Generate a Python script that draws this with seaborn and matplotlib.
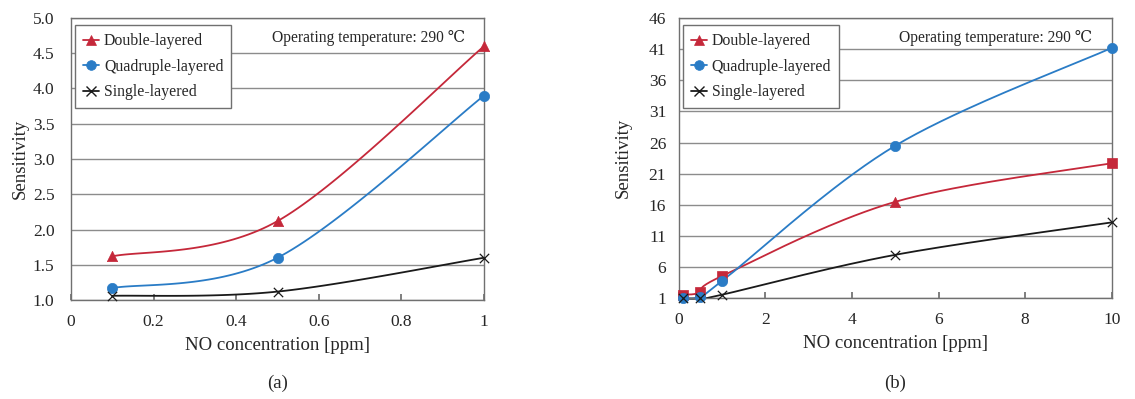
import numpy as np
import pandas as pd
import matplotlib
matplotlib.use("Agg")
import matplotlib.pyplot as plt
import seaborn as sns

# ---- data ----
series_names = ["Double-layered", "Quadruple-layered", "Single-layered"]

# panel (a)
x_a = [0.1, 0.5, 1.0]
double_a = [1.62, 2.12, 4.60]
quad_a = [1.17, 1.60, 3.90]
single_a = [1.06, 1.12, 1.60]

# panel (b)
x_b = [0.1, 0.5, 1.0, 5.0, 10.0]
double_b = [1.6, 2.0, 4.6, 16.5, 22.7]
quad_b = [1.0, 1.3, 3.8, 25.5, 41.2]
single_b = [1.0, 1.0, 1.6, 8.0, 13.2]

xticks_a = [0, 0.2, 0.4, 0.6, 0.8, 1.0]
xticklabels_a = ["0", "0.2", "0.4", "0.6", "0.8", "1"]
yticks_a = [1.0, 1.5, 2.0, 2.5, 3.0, 3.5, 4.0, 4.5, 5.0]
xticks_b = [0, 2, 4, 6, 8, 10]
yticks_b = [1, 6, 11, 16, 21, 26, 31, 36, 41, 46]

annotation = "Operating temperature: 290 \u2103"
xlabel = "NO concentration [ppm]"
ylabel = "Sensitivity"
captions = ["(a)", "(b)"]

# ---- style ----
sns.set_theme(style="white")
plt.rcParams["font.family"] = ["Liberation Serif", "DejaVu Serif"]

RED = "#C5283A"
BLUE = "#2A7CC6"
BLACK = "#1a1a1a"
colors = [RED, BLUE, BLACK]
markers_a = ["^", "o", "x"]
red_markers_b = ["s", "s", "s", "^", "s"]


def smooth(x, y, n=40):
    """Excel-like smoothed curve (Catmull-Rom Bezier) through points."""
    x = np.asarray(x, float)
    y = np.asarray(y, float)
    P = np.column_stack([x, y])
    out = []
    for i in range(len(P) - 1):
        p0 = P[i - 1] if i > 0 else P[i]
        p1 = P[i]
        p2 = P[i + 1]
        p3 = P[i + 2] if i + 2 < len(P) else P[i + 1]
        c1 = p1 + (p2 - p0) / 6.0
        c2 = p2 - (p3 - p1) / 6.0
        t = np.linspace(0, 1, n)[:, None]
        seg = ((1 - t) ** 3) * p1 + 3 * ((1 - t) ** 2) * t * c1 + 3 * (1 - t) * t ** 2 * c2 + t ** 3 * p2
        out.append(seg if i == 0 else seg[1:])
    s = np.vstack(out)
    return s[:, 0], s[:, 1]


fig = plt.figure(figsize=(11.35, 3.99), dpi=100)
ax_a = fig.add_axes([0.0626, 0.248, 0.3639, 0.707])
ax_b = fig.add_axes([0.598, 0.252, 0.3815, 0.703])


def style_axes(ax, xlim, ylim, xticks, yticks, xtl, ytl, ypad, ylpad):
    ax.set_xlim(*xlim)
    ax.set_ylim(*ylim)
    ax.set_xticks(xticks)
    ax.set_xticklabels(xtl)
    ax.set_yticks(yticks)
    ax.set_yticklabels(ytl)
    ax.yaxis.grid(True, color="#8c8c8c", linewidth=1.0)
    ax.xaxis.grid(False)
    ax.set_axisbelow(True)
    for sp in ax.spines.values():
        sp.set_color("#707070")
        sp.set_linewidth(1.0)
        sp.set_visible(True)
    ax.tick_params(axis="x", direction="in", length=4, color="#707070",
                   labelsize=12.5, pad=10, bottom=True)
    ax.tick_params(axis="y", length=0, labelsize=12.5, pad=ypad)
    ax.set_xlabel(xlabel, fontsize=13.5, labelpad=5)
    ax.set_ylabel(ylabel, fontsize=13.5, labelpad=ylpad)
    ax.set_facecolor("white")


def draw_panel(ax, x, ys, marker_lists, legend_markers):
    for name, y, c, mk in zip(series_names, ys, colors, marker_lists):
        sx, sy = smooth(x, y)
        sns.lineplot(x=sx, y=sy, ax=ax, color=c, linewidth=1.3, sort=False,
                     estimator=None)
        df = pd.DataFrame({"x": x, "y": y, "m": mk})
        for m in dict.fromkeys(mk):
            sub = df[df["m"] == m]
            if m == "x":
                sns.scatterplot(data=sub, x="x", y="y", ax=ax, marker="x",
                                color=c, s=45, linewidth=0.9, zorder=5)
            else:
                sz = 50 if m == "s" else 55
                sns.scatterplot(data=sub, x="x", y="y", ax=ax, marker=m,
                                color=c, s=sz, edgecolor=c, linewidth=0.5,
                                zorder=5)
    handles = []
    for name, c, m in zip(series_names, colors, legend_markers):
        h, = ax.plot([], [], color=c, marker=m, linewidth=1.3,
                     markersize=7,
                     markeredgewidth=1.0 if m == "x" else 0.5, label=name)
        handles.append(h)
    leg = ax.legend(handles=handles, loc="upper left", bbox_to_anchor=(0.003, 0.985),
                    fontsize=11.4, frameon=True, fancybox=False, framealpha=1,
                    edgecolor="#707070", handlelength=1.0, handletextpad=0.3,
                    borderpad=0.5, labelspacing=0.6, borderaxespad=0.2)
    leg.get_frame().set_linewidth(1.0)
    ax.text(0.955, 0.93, annotation, transform=ax.transAxes, ha="right",
            va="center", fontsize=11.2)


draw_panel(ax_a, x_a, [double_a, quad_a, single_a],
           [["^"] * 3, ["o"] * 3, ["x"] * 3], markers_a)
style_axes(ax_a, (0, 1.0), (1.0, 5.0), xticks_a, yticks_a, xticklabels_a,
           [f"{v:.1f}" for v in yticks_a], 12, 3)

draw_panel(ax_b, x_b, [double_b, quad_b, single_b],
           [red_markers_b, ["o"] * 5, ["x"] * 5], markers_a)
style_axes(ax_b, (0, 10), (1, 46), xticks_b, yticks_b,
           [str(v) for v in xticks_b], [str(v) for v in yticks_b], 9, 12)

for ax in (ax_a, ax_b):
    for line in ax.lines:
        line.set_clip_on(False)
    for coll in ax.collections:
        coll.set_clip_on(False)

fig.text(0.2445, 0.04, captions[0], ha="center", va="center", fontsize=13.5)
fig.text(0.7885, 0.04, captions[1], ha="center", va="center", fontsize=13.5)

fig.savefig("out.png", dpi=100, facecolor="white")
